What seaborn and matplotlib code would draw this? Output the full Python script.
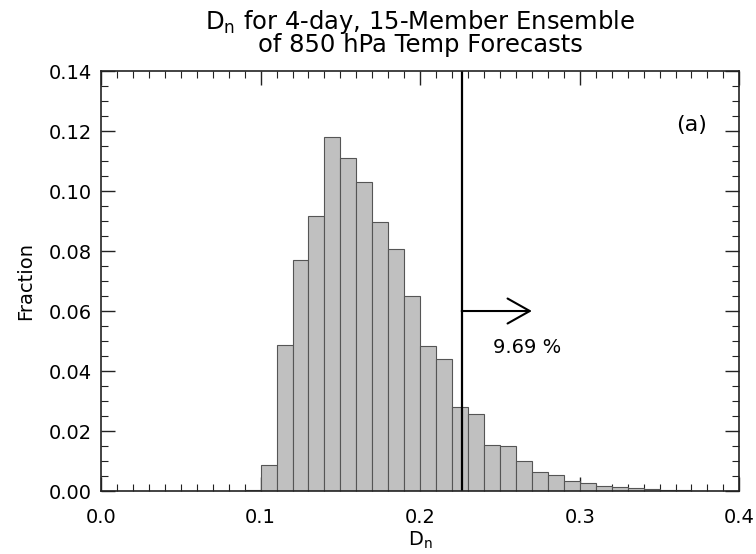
import numpy as np
import pandas as pd
import matplotlib
matplotlib.use("Agg")
import matplotlib.pyplot as plt
import seaborn as sns
from matplotlib.ticker import MultipleLocator

# Data
bin_left = [0.09, 0.10, 0.11, 0.12, 0.13, 0.14, 0.15, 0.16, 0.17, 0.18, 0.19,
            0.20, 0.21, 0.22, 0.23, 0.24, 0.25, 0.26, 0.27, 0.28, 0.29, 0.30,
            0.31, 0.32, 0.33, 0.34, 0.35, 0.36]
fraction = [0.0002, 0.0087, 0.0486, 0.0770, 0.0916, 0.1180, 0.1111, 0.1030,
            0.0897, 0.0808, 0.0651, 0.0482, 0.0441, 0.0279, 0.0257, 0.0154,
            0.0150, 0.0100, 0.0063, 0.0053, 0.0033, 0.0027, 0.0016, 0.0013,
            0.0009, 0.0007, 0.0004, 0.0002]
bin_width = 0.01
threshold = 0.226
pct_label = "9.69 %"
panel_label = "(a)"
title = "D$_\\mathregular{n}$ for 4-day, 15-Member Ensemble\nof 850 hPa Temp Forecasts"
xlabel = "D$_\\mathregular{n}$"
ylabel = "Fraction"

sns.set_style("ticks")
plt.rcParams['font.family'] = ['DejaVu Sans']
plt.rcParams['text.color'] = 'black'
plt.rcParams['axes.labelcolor'] = 'black'
plt.rcParams['xtick.color'] = '#222222'
plt.rcParams['ytick.color'] = '#222222'
plt.rcParams['xtick.labelcolor'] = 'black'
plt.rcParams['ytick.labelcolor'] = 'black'

df = pd.DataFrame({"center": np.array(bin_left) + bin_width / 2, "fraction": fraction})
edges = [round(b, 4) for b in bin_left] + [round(bin_left[-1] + bin_width, 4)]

fig = plt.figure(figsize=(7.56, 5.54), dpi=100)
ax = fig.add_axes([0.1336, 0.1137, 0.978 - 0.1336, 0.8718 - 0.1137])

sns.histplot(data=df, x="center", weights="fraction", bins=edges, ax=ax,
             color="#c0c0c0", edgecolor="#555555", linewidth=0.8, alpha=1.0)

ax.axvline(threshold, color="black", lw=1.6)
ax.annotate("", xy=(0.27, 0.06), xytext=(threshold, 0.06),
            arrowprops=dict(arrowstyle="->,head_length=1.6,head_width=0.9",
                            lw=1.5, color="black", shrinkA=0, shrinkB=0,
                            mutation_scale=10))
ax.text(0.2456, 0.048, pct_label, fontsize=14, va="center", ha="left")
ax.text(0.370, 0.122, panel_label, fontsize=16, va="center", ha="center")

ax.set_xlim(0, 0.4)
ax.set_ylim(0, 0.14)
ax.xaxis.set_major_locator(MultipleLocator(0.1))
ax.xaxis.set_minor_locator(MultipleLocator(0.01))
ax.yaxis.set_major_locator(MultipleLocator(0.02))
ax.yaxis.set_minor_locator(MultipleLocator(0.005))
ax.xaxis.set_major_formatter(plt.FuncFormatter(lambda v, p: f"{v:.1f}"))
ax.yaxis.set_major_formatter(plt.FuncFormatter(lambda v, p: f"{v:.2f}"))
ax.tick_params(which="both", direction="in", top=True, right=True)
ax.tick_params(which="major", length=10, width=1, labelsize=14)
ax.tick_params(axis="x", which="major", pad=12)
ax.tick_params(axis="y", which="major", pad=6.5)
ax.tick_params(which="minor", length=5, width=0.8)
for s in ax.spines.values():
    s.set_linewidth(1.2)
    s.set_color("#222222")

ax.set_xlabel(xlabel, fontsize=14, labelpad=2)
ax.set_ylabel(ylabel, fontsize=14, labelpad=10)
ax.set_title(title, fontsize=17.5, linespacing=0.8, pad=14)

fig.savefig("out.png", dpi=100)
